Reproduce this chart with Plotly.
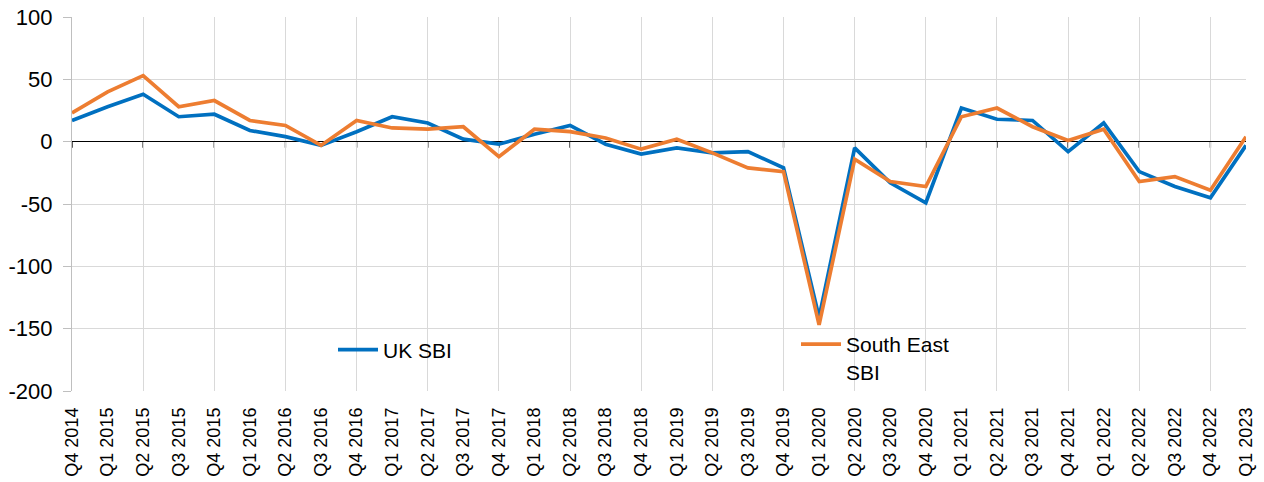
import plotly.graph_objects as go

quarters = ["Q4 2014", "Q1 2015", "Q2 2015", "Q3 2015", "Q4 2015", "Q1 2016", "Q2 2016",
            "Q3 2016", "Q4 2016", "Q1 2017", "Q2 2017", "Q3 2017", "Q4 2017", "Q1 2018",
            "Q2 2018", "Q3 2018", "Q4 2018", "Q1 2019", "Q2 2019", "Q3 2019", "Q4 2019",
            "Q1 2020", "Q2 2020", "Q3 2020", "Q4 2020", "Q1 2021", "Q2 2021", "Q3 2021",
            "Q4 2021", "Q1 2022", "Q2 2022", "Q3 2022", "Q4 2022", "Q1 2023"]
uk_sbi = [17, 28, 38, 20, 22, 9, 4, -3, 8, 20, 15, 2, -2, 6, 13, -2, -10, -5, -9, -8,
          -21, -141, -5, -33, -49, 27, 18, 17, -8, 15, -24, -36, -45, -3]
se_sbi = [23, 40, 53, 28, 33, 17, 13, -3, 17, 11, 10, 12, -12, 10, 8, 3, -6, 2, -9, -21,
          -24, -147, -14, -32, -36, 20, 27, 12, 1, 10, -32, -28, -39, 4]
y_ticks = [100, 50, 0, -50, -100, -150, -200]
y_tick_text = ["100", "50", "0", "-50", "-100", "-150", "-200"]

idx = list(range(len(quarters)))
even_idx = idx[::2]

W, H = 1264, 482
ML, MR, MT, MB = 72, 18, 17, 91
PW, PH = W - ML - MR, H - MT - MB

BLUE = "#0070C0"
ORANGE = "#ED7D31"
GRID = "#D9D9D9"
FONT = "Liberation Sans, Arial, sans-serif"

fig = go.Figure()
fig.add_trace(go.Scatter(x=idx, y=uk_sbi, mode="lines", name="UK SBI",
                         line=dict(color=BLUE, width=3.7), legend="legend"))
fig.add_trace(go.Scatter(x=idx, y=se_sbi, mode="lines", name="South East<br>SBI",
                         line=dict(color=ORANGE, width=3.7), legend="legend2"))

def px_x(p):
    return (p - ML) / PW

def px_y(p):
    return (H - MB - p) / PH

# short tick marks hanging below the zero line (every second category)
shapes = [dict(type="line", xref="x", yref="y", x0=i, x1=i, ysizemode="pixel",
               yanchor=0, y0=0, y1=-6, line=dict(color="black", width=1.3), layer="below")
          for i in even_idx]

fig.update_layout(
    width=W, height=H,
    margin=dict(l=ML, r=MR, t=MT, b=MB, autoexpand=False),
    paper_bgcolor="white", plot_bgcolor="white",
    font=dict(family=FONT, color="black"),
    showlegend=True,
    shapes=shapes,
    xaxis=dict(
        range=[0, len(quarters) - 1], automargin=False,
        tickmode="array", tickvals=idx, ticktext=quarters,
        tickangle=-90, tickfont=dict(family=FONT, size=18),
        showgrid=False, zeroline=False, showline=False, ticks="",
        minor=dict(tickmode="array", tickvals=even_idx, showgrid=True,
                   gridcolor=GRID, gridwidth=1.3, ticks=""),
        ticklabelstandoff=12,
    ),
    yaxis=dict(
        range=[y_ticks[-1], y_ticks[0]], automargin=False,
        tickmode="array", tickvals=y_ticks, ticktext=y_tick_text,
        tickfont=dict(size=22, family=FONT),
        showgrid=True, gridcolor=GRID, gridwidth=1.3,
        zeroline=True, zerolinecolor="black", zerolinewidth=1.3,
        showline=True, linecolor="#BFBFBF", linewidth=1.3,
        ticks="outside", ticklen=8, tickcolor="#BFBFBF", tickwidth=1.3,
        ticklabelstandoff=6,
    ),
    legend=dict(x=px_x(333), y=px_y(350), xanchor="left", yanchor="middle",
                bgcolor="rgba(0,0,0,0)", font=dict(size=21, family=FONT),
                itemwidth=40),
    legend2=dict(x=px_x(796), y=px_y(358), xanchor="left", yanchor="middle",
                 bgcolor="rgba(0,0,0,0)", font=dict(size=21, family=FONT),
                 itemwidth=40, valign="top"),
)

fig.write_html("out.html", post_script="document.body.style.margin='0';",
               config={"displayModeBar": False})
